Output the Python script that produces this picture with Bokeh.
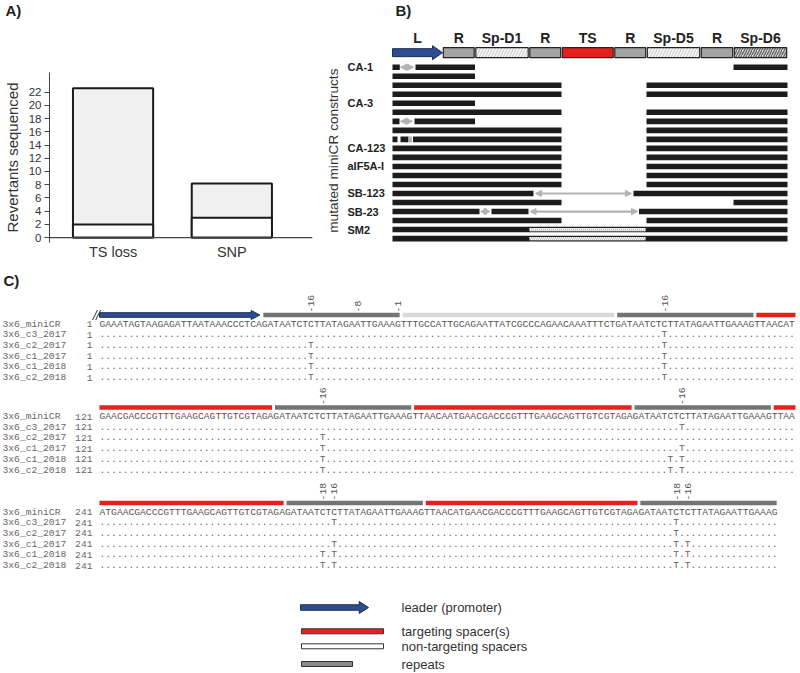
import math
from bokeh.plotting import figure
from bokeh.models import ColumnDataSource, Range1d, Span, FixedTicker, Arrow, NormalHead
from bokeh.layouts import column, row
from bokeh.embed import file_html
from bokeh.resources import INLINE
from bokeh.core.properties import value

# ======================= DATA =======================
# Panel A: revertants sequenced
a_categories = ["TS loss", "SNP"]
a_total = [22.6, 8.2]
a_lower = [2, 3]
a_yticks = [0, 2, 4, 6, 8, 10, 12, 14, 16, 18, 20, 22]

# Panel B: miniCR schematic (element boundaries in schematic units)
b_elements = ["L", "R", "Sp-D1", "R", "TS", "R", "Sp-D5", "R", "Sp-D6"]
b_kinds = ["leader", "repeat", "ntspacer", "repeat", "ts", "repeat", "ntspacer", "repeat", "ntspacer_dark"]
b_bounds = [0, 50, 82.5, 136.5, 169, 221.5, 254, 308, 341, 395]

# construct rows: segment row index, start, end, kind
seg_row = [0, 0, 0, 0,
           1,
           2, 2,
           3, 3,
           4,
           5, 5,
           6, 6, 6, 6,
           7, 7,
           8, 8, 8, 8, 8,
           9, 9, 10, 10, 11, 11, 12, 12, 13, 13,
           14, 14, 14,
           15, 15,
           16, 16, 16, 16, 16,
           17, 17,
           18, 18,
           19, 19]
seg_start = [0, 8, 23, 341,
             0,
             0, 254,
             0, 254,
             0,
             0, 254,
             0, 8, 22, 254,
             0, 254,
             0, 8, 16, 20.5, 254,
             0, 254, 0, 254, 0, 254, 0, 254, 0, 254,
             0, 143, 241,
             0, 341,
             0, 88, 99, 137.5, 246.5,
             0, 254,
             0, 137,
             0, 137]
seg_end = [7.3, 21, 82.5, 395,
           82.5,
           169, 395,
           169, 395,
           82.5,
           169, 395,
           7, 20, 82.5, 395,
           169, 395,
           5, 16, 19.5, 169, 395,
           169, 395, 169, 395, 169, 395, 169, 395, 169, 395,
           141, 239, 395,
           169, 395,
           87, 97.5, 136, 245, 395,
           169, 395,
           395, 253,
           395, 253]
seg_kind = ["kept", "gap", "kept", "kept",
            "kept",
            "kept", "kept",
            "kept", "kept",
            "kept",
            "kept", "kept",
            "kept", "gap", "kept", "kept",
            "kept", "kept",
            "kept", "kept", "small", "kept", "kept",
            "kept", "kept", "kept", "kept", "kept", "kept", "kept", "kept", "kept", "kept",
            "kept", "gap", "kept",
            "kept", "kept",
            "kept", "gap", "kept", "gap", "kept",
            "kept", "kept",
            "kept", "swap",
            "kept", "swap"]
b_label_rows = [0, 4, 9, 11, 14, 16, 18]
b_label_text = ["CA-1", "CA-3", "CA-123", "aIF5A-I", "SB-123", "SB-23", "SM2"]

# Panel C: alignment
c_names = ["3x6_miniCR", "3x6_c3_2017", "3x6_c2_2017", "3x6_c1_2017", "3x6_c1_2018", "3x6_c2_2018"]
c_block_numbers = ["1", "121", "241"]
c_seq_lines = [
    "GAAATAGTAAGAGATTAATAAACCCTCAGATAATCTCTTATAGAATTGAAAGTTTGCCATTGCAGAATTATCGCCCAGAACAAATTTCTGATAATCTCTTATAGAATTGAAAGTTAACAT",
    "GAACGACCCGTTTGAAGCAGTTGTCGTAGAGATAATCTCTTATAGAATTGAAAGTTAACAATGAACGACCCGTTTGAAGCAGTTGTCGTAGAGATAATCTCTTATAGAATTGAAAGTTAA",
    "ATGAACGACCCGTTTGAAGCAGTTGTCGTAGAGATAATCTCTTATAGAATTGAAAGTTAACATGAACGACCCGTTTGAAGCAGTTGTCGTAGAGATAATCTCTTATAGAATTGAAAG",
]
c_feat_start = [0, 28, 52, 89, 113, 150, 174, 212, 236, 272, 296, 333]
c_feat_end = [28, 52, 89, 113, 150, 174, 212, 236, 272, 296, 333, 357]
c_feat_kind = ["leader", "repeat", "ntspacer", "repeat", "ts", "repeat", "ts", "repeat", "ts", "repeat", "ts", "repeat"]
c_marker_pos = [36, 44, 51, 97, 158, 220, 278, 280, 339, 341]
c_marker_lab = ["-16", "-8", "-1", "-16", "-16", "-16", "-18", "-16", "-18", "-16"]
snp_c3_2017 = [97, 220, 280, 339]
snp_c2_2017 = [36, 97, 158, 339]
snp_c1_2017 = [36, 97, 158, 220, 280, 339, 341]
snp_c1_2018 = [36, 97, 158, 218, 220, 278, 280, 339, 341]
snp_c2_2018 = [36, 97, 158, 218, 220, 278, 280, 339, 341]
snp_base = "T"
legend_labels = ["leader (promoter)", "targeting spacer(s)", "non-targeting spacers", "repeats"]

# ======================= STYLE =======================
SANS = "Liberation Sans"
MONO = "Liberation Mono"
BLUE = "#2d4d8e"
BLUE_EDGE = "#1a2c5c"
RED = "#e5211d"
GREY_R = "#a3a3a3"
GREY_C = "#747474"
LIGHT = "#d9d9d9"
DARK = "#1c1c1c"
ARROW_GREY = "#b3b3b3"


def clean(p):
    p.axis.visible = False
    p.grid.visible = False
    p.outline_line_color = None
    p.background_fill_color = "white"
    p.border_fill_color = "white"
    p.frame_align = False


def arrow_poly(x0, x1, yc, shaft_h, head_h, head_len):
    xh = x1 - head_len
    xs = [x0, xh, xh, x1, xh, xh, x0]
    ys = [yc - shaft_h / 2, yc - shaft_h / 2, yc - head_h / 2, yc, yc + head_h / 2, yc + shaft_h / 2, yc + shaft_h / 2]
    return xs, ys


NOB = dict(min_border_left=0, min_border_right=0, min_border_top=0, min_border_bottom=0)

# ======================= PANEL A =======================
TOP_H = 30
pa_top = figure(width=322, height=TOP_H, x_range=Range1d(0, 322), y_range=Range1d(TOP_H, 0),
                output_backend="svg", toolbar_location=None, **NOB)
clean(pa_top)
pa_top.text(x=[5], y=[10], text=["A)"], text_align="left", text_baseline="middle",
            text_font=value(SANS), text_font_style="bold", text_font_size="15px", text_color="#222")

pa = figure(width=322, height=262 - TOP_H, x_range=Range1d(-0.535, 1.679), y_range=Range1d(-0.74, 24.97),
            output_backend="svg", toolbar_location=None,
            min_border_left=43, min_border_right=10, min_border_top=72 - TOP_H, min_border_bottom=17)
pa.frame_align = False
pa.grid.visible = False
pa.outline_line_color = None
a_x = list(range(len(a_categories)))
src_a = ColumnDataSource(dict(x=a_x, total=a_total, lower=a_lower))
pa.vbar(x="x", top="total", bottom=0, width=0.675, source=src_a, fill_color="#f0f0f0",
        line_color="#1a1a1a", line_width=2)
pa.vbar(x="x", top="lower", bottom=0, width=0.675, source=src_a, fill_color="white",
        line_color="#1a1a1a", line_width=2)
pa.add_layout(Span(location=0, dimension="width", line_color="#444", line_width=1.2))

ya = pa.yaxis[0]
ya.ticker = FixedTicker(ticks=a_yticks)
ya.minor_tick_line_color = None
ya.major_tick_out = 5
ya.major_tick_in = 0
ya.axis_line_color = "#444"
ya.major_tick_line_color = "#444"
ya.major_label_text_font = SANS
ya.major_label_text_font_size = "11.5px"
ya.major_label_text_color = "#333"
ya.major_label_standoff = 3
ya.axis_label = "Revertants sequenced"
ya.axis_label_text_font = SANS
ya.axis_label_text_font_size = "15px"
ya.axis_label_text_font_style = "normal"
ya.axis_label_text_color = "#333"
ya.axis_label_standoff = 5

xa = pa.xaxis[0]
xa.ticker = FixedTicker(ticks=a_x)
xa.major_label_overrides = {i: c for i, c in enumerate(a_categories)}
xa.axis_line_color = None
xa.major_tick_line_color = None
xa.major_tick_out = 0
xa.major_tick_in = 0
xa.minor_tick_line_color = None
xa.major_label_standoff = 1
xa.major_label_text_font = SANS
xa.major_label_text_font_size = "14.5px"
xa.major_label_text_color = "#333"

# ======================= PANEL B =======================
ROW_H = 9.02
pb = figure(width=478, height=262, x_range=Range1d(-70, 408), y_range=Range1d(21.65, -7.395),
            output_backend="svg", toolbar_location=None, **NOB)
clean(pb)

HDR_Y = -1.61
HDR_H = 10 / ROW_H
fill_map = {"repeat": GREY_R, "ts": RED, "ntspacer": "#f7f7f7", "ntspacer_dark": "#e4e4e4"}
for i, (name, kind) in enumerate(zip(b_elements, b_kinds)):
    l, r = b_bounds[i], b_bounds[i + 1]
    if kind == "leader":
        xs, ys = arrow_poly(l, r, HDR_Y, 8 / ROW_H, 14 / ROW_H, 10)
        pb.patch(xs, ys, fill_color=BLUE, line_color=BLUE_EDGE, line_width=1)
    else:
        kw = {}
        if kind == "ntspacer":
            kw = dict(hatch_pattern="/", hatch_color="#c4c4c4", hatch_scale=6, hatch_weight=1)
        elif kind == "ntspacer_dark":
            kw = dict(hatch_pattern="/", hatch_color="#6a6a6a", hatch_scale=5, hatch_weight=1.5)
        pb.quad(left=l + 0.8, right=r - 0.8, top=HDR_Y - HDR_H / 2, bottom=HDR_Y + HDR_H / 2,
                fill_color=fill_map[kind], line_color="#222", line_width=1.2, **kw)
    pb.text(x=[(l + r) / 2], y=[HDR_Y - 1.68], text=[name], text_align="center", text_baseline="middle",
            text_font=value(SANS), text_font_style="bold", text_font_size="14px", text_color="#222")

BAR_H = 0.62
kept = [(r, s, e) for r, s, e, k in zip(seg_row, seg_start, seg_end, seg_kind) if k == "kept"]
pb.quad(left=[s for _, s, _ in kept], right=[e for _, _, e in kept],
        top=[r - BAR_H / 2 for r, _, _ in kept], bottom=[r + BAR_H / 2 for r, _, _ in kept],
        fill_color=DARK, line_color=None)
small = [(r, s, e) for r, s, e, k in zip(seg_row, seg_start, seg_end, seg_kind) if k == "small"]
pb.quad(left=[s for _, s, _ in small], right=[e for _, _, e in small],
        top=[r - BAR_H / 2 for r, _, _ in small], bottom=[r + BAR_H / 2 for r, _, _ in small],
        fill_color=ARROW_GREY, line_color=None)
swap = [(r, s, e) for r, s, e, k in zip(seg_row, seg_start, seg_end, seg_kind) if k == "swap"]
pb.quad(left=[s for _, s, _ in swap], right=[e for _, _, e in swap],
        top=[r - BAR_H * 0.3 for r, _, _ in swap], bottom=[r + BAR_H * 0.3 for r, _, _ in swap],
        fill_color="white", line_color=None, hatch_pattern="/", hatch_color="#bdbdbd",
        hatch_scale=4, hatch_weight=1)
gaps = [(r, s, e) for r, s, e, k in zip(seg_row, seg_start, seg_end, seg_kind) if k == "gap"]
src_gap = ColumnDataSource(dict(x0=[s for _, s, _ in gaps], x1=[e for _, _, e in gaps],
                                y=[r for r, _, _ in gaps]))
pb.add_layout(Arrow(start=NormalHead(size=6, fill_color=ARROW_GREY, line_color=ARROW_GREY),
                    end=NormalHead(size=6, fill_color=ARROW_GREY, line_color=ARROW_GREY),
                    x_start="x0", x_end="x1", y_start="y", y_end="y", source=src_gap,
                    line_color=ARROW_GREY, line_width=2.2))

pb.text(x=[-45] * len(b_label_rows), y=b_label_rows, text=b_label_text, text_align="left",
        text_baseline="middle", text_font=value(SANS), text_font_style="bold",
        text_font_size="11px", text_color="#222")
pb.text(x=[-59], y=[9.25], text=["mutated miniCR constructs"], angle=math.pi / 2,
        text_align="center", text_baseline="middle", text_font=value(SANS),
        text_font_size="13.7px", text_color="#333")
pb.text(x=[3], y=[-6.29], text=["B)"], text_align="left", text_baseline="middle",
        text_font=value(SANS), text_font_style="bold", text_font_size="15px", text_color="#222")

# ======================= PANEL C =======================
CW = 5.8  # reference px per character
X0 = 99   # reference px of first sequence column


def rx(x):
    return (x - X0) / CW


pc = figure(width=800, height=411, x_range=Range1d(rx(0), rx(800)), y_range=Range1d(673, 262),
            output_backend="svg", toolbar_location=None, **NOB)
clean(pc)

BLOCK = 120
block_y = [323.5, 416.0, 511.5]
ROW_SP = 10.7
BAR_OFF = 9.0
BAR_HH = 4.6
FS = "9.67px"

sample_snps = [snp_c3_2017, snp_c2_2017, snp_c1_2017, snp_c1_2018, snp_c2_2018]
full_len = sum(len(s) for s in c_seq_lines)
sample_lines = []
for snps in sample_snps:
    chars = ["."] * full_len
    for pos in snps:
        chars[pos] = snp_base
    sample_lines.append("".join(chars))

tx, ty, tt = [], [], []
nx, ny, nt = [], [], []
sx, sy, st = [], [], []
dx, dy, dt = [], [], []
for b, seq in enumerate(c_seq_lines):
    L = len(seq)
    for r, name in enumerate(c_names):
        y = block_y[b] + r * ROW_SP
        nx.append(rx(2)); ny.append(y); nt.append(name)
        tx.append(rx(92)); ty.append(y); tt.append(c_block_numbers[b])
        if r == 0:
            sx.append(0); sy.append(y); st.append(seq)
        else:
            dx.append(0); dy.append(y); dt.append(sample_lines[r - 1][b * BLOCK:b * BLOCK + L])

txt_kw = dict(text_font=value(MONO), text_font_size=FS, text_baseline="middle")
pc.text(x=nx, y=ny, text=nt, text_align="left", text_color="#666", **txt_kw)
pc.text(x=tx, y=ty, text=tt, text_align="right", text_color="#666", **txt_kw)
pc.text(x=sx, y=sy, text=st, text_align="left", text_color="#555", **txt_kw)
pc.text(x=dx, y=dy, text=dt, text_align="left", text_color="#666", **txt_kw)

# feature bars
kind_col = {"repeat": GREY_C, "ts": RED, "ntspacer": LIGHT}
ql, qr, qt, qb, qc = [], [], [], [], []
for s, e, k in zip(c_feat_start, c_feat_end, c_feat_kind):
    for b in range(len(c_seq_lines)):
        lo, hi = max(s, b * BLOCK), min(e, b * BLOCK + len(c_seq_lines[b]))
        if lo >= hi:
            continue
        yc = block_y[b] - BAR_OFF
        left = lo - b * BLOCK + (0.25 if lo == s else 0)
        right = hi - b * BLOCK - (0.25 if hi == e else 0)
        if k == "leader":
            xs, ys = arrow_poly(left - 0.25, right - 0.1, yc, BAR_HH, 9, 1.5)
            pc.patch(xs, ys, fill_color=BLUE, line_color=BLUE_EDGE, line_width=1)
            # break symbol //
            for off in (0.0, 0.55):
                pc.line([left - 1.45 + off, left - 0.6 + off], [yc + 5, yc - 5], line_color="#333", line_width=1)
            continue
        ql.append(left); qr.append(right); qt.append(yc - BAR_HH / 2); qb.append(yc + BAR_HH / 2)
        qc.append(kind_col[k])
pc.quad(left=ql, right=qr, top=qt, bottom=qb, fill_color=qc, line_color=None)

# position markers
mx, my, mt = [], [], []
for pos, lab in zip(c_marker_pos, c_marker_lab):
    b = pos // BLOCK
    mx.append(pos - b * BLOCK + 0.5)
    my.append(block_y[b] - BAR_OFF - BAR_HH / 2 - 0.3)
    mt.append(lab)
pc.text(x=mx, y=my, text=mt, angle=math.pi / 2, text_align="left", text_baseline="middle",
        text_font=value(MONO), text_font_size="9.67px", text_color="#555")

pc.text(x=[rx(3)], y=[280], text=["C)"], text_align="left", text_baseline="middle",
        text_font=value(SANS), text_font_style="bold", text_font_size="15px", text_color="#222")

# legend
leg_y = [607, 630.8, 645.8, 663.5]
xs, ys = arrow_poly(rx(300), rx(368), leg_y[0], 5.5, 12, 1.6)
pc.patch(xs, ys, fill_color=BLUE, line_color=BLUE_EDGE, line_width=1)
pc.quad(left=[rx(301), rx(301), rx(301)], right=[rx(383), rx(383), rx(352)],
        top=[y - 2.5 for y in leg_y[1:]], bottom=[y + 2.5 for y in leg_y[1:]],
        fill_color=[RED, "white", "#8c8c8c"], line_color="#333", line_width=1)
pc.text(x=[rx(401)] * 4, y=leg_y, text=legend_labels, text_align="left", text_baseline="middle",
        text_font=value(SANS), text_font_size="13px", text_color="#333")

layout = column(row(column(pa_top, pa, spacing=0), pb, spacing=0), pc, spacing=0)
open("out.html", "w").write(file_html(layout, INLINE))
